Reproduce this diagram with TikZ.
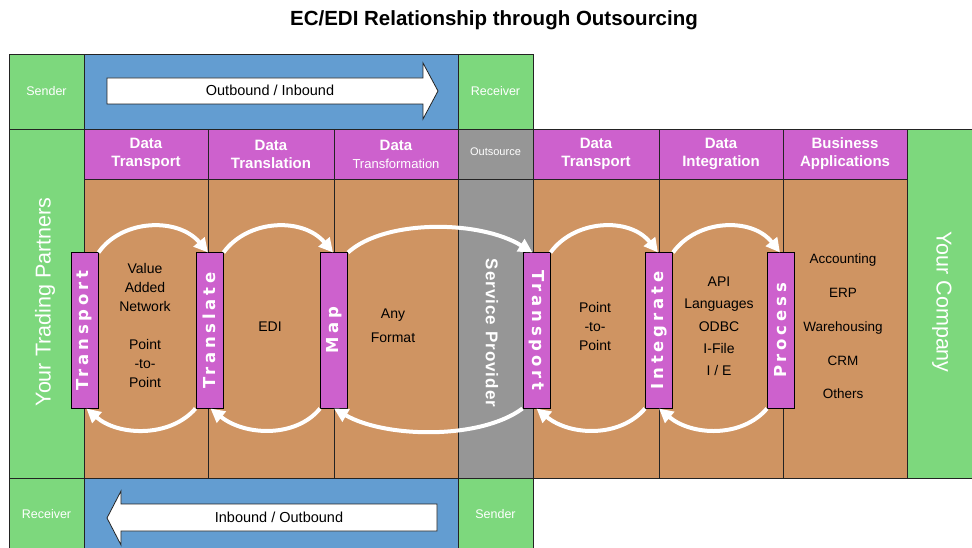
\documentclass[tikz,border=0pt]{standalone}
\usepackage{fontspec}
\setmainfont{Liberation Sans}
\newfontfamily\barfont[LetterSpace=23]{DejaVu Sans}
\usetikzlibrary{arrows.meta}
\definecolor{cgreen}{RGB}{125,216,125}
\definecolor{cblue}{RGB}{99,157,209}
\definecolor{cmag}{RGB}{205,97,205}
\definecolor{ctan}{RGB}{207,148,98}
\definecolor{cgray}{RGB}{150,150,150}
\definecolor{cline}{RGB}{35,35,35}
\newcommand{\fsz}[2]{\fontsize{#1}{#2}\selectfont}
\begin{document}
\begin{tikzpicture}[x=1pt,y=-1pt,
  cell/.style={draw=cline,line width=0.9pt},
  barbox/.style={draw=black,line width=1pt,fill=cmag,minimum width=27pt,minimum height=155pt,inner sep=0pt},
  barlabel/.style={text=white,inner sep=0pt,font=\barfont\fsz{16.5}{18}\bfseries},
  headtxt/.style={text=white,align=center,inner sep=0pt,font=\fsz{15}{18}\bfseries},
  small/.style={text=white,inner sep=0pt,font=\fsz{12.5}{14}},
  body/.style={text=black,align=center,inner sep=0pt,font=\fsz{14}{19}},
  bigv/.style={text=white,inner sep=0pt,font=\fsz{21.5}{24}},
  warr/.style={white,line width=4pt,-{Triangle[length=14pt,width=14pt]}},
  blockarr/.style={fill=white,draw=cline,line width=0.8pt}
]
\useasboundingbox (0,0) rectangle (972,548);
\fill[white] (0,0) rectangle (972,548);

% title
\node[inner sep=0pt,font=\fsz{20.5}{24}\bfseries] (title) at (494,20) {EC/EDI Relationship through Outsourcing};

% top row
\path[cell,fill=cgreen] (9,54) rectangle (84,129);
\path[cell,fill=cblue] (84,54) rectangle (458,129);
\path[cell,fill=cgreen] (458,54) rectangle (533,129);
% bottom row
\path[cell,fill=cgreen] (9,478) rectangle (84,552);
\path[cell,fill=cblue] (84,478) rectangle (458,552);
\path[cell,fill=cgreen] (458,478) rectangle (533,552);
% side columns
\path[cell,fill=cgreen] (9,129) rectangle (84,478);
\path[cell,fill=cgreen] (907,129) rectangle (976,478);
% gray column
\path[cell,fill=cgray] (458,129) rectangle (533,179);
\path[cell,fill=cgray] (458,179) rectangle (533,478);
% headers
\foreach \a/\b in {84/208,208/334,334/458,533/659,659/783,783/907}{
  \path[cell,fill=cmag] (\a,129) rectangle (\b,179);
  \path[cell,fill=ctan] (\a,179) rectangle (\b,478);
}

% block arrows
\path[blockarr] (107,78) -- (423,78) -- (423,63) -- (438,91) -- (423,119) -- (423,104) -- (107,104) -- cycle;
\path[blockarr] (437,504) -- (121,504) -- (121,491) -- (107,518) -- (121,545) -- (121,531) -- (437,531) -- cycle;
\node[inner sep=0pt,font=\fsz{14.5}{17}] (outin) at (270,90) {Outbound / Inbound};
\node[inner sep=0pt,font=\fsz{14.5}{17}] (inout) at (279,517) {Inbound / Outbound};

% row labels
\node[small] (sendtop) at (46.5,91) {Sender};
\node[small] (rectop) at (495.5,91) {Receiver};
\node[small] (recbot) at (46.5,514) {Receiver};
\node[small] (sendbot) at (495.5,514) {Sender};

% headers text
\node[headtxt] (h1) at (146,154) {Data\\Transport};
\node[headtxt] (h2) at (271,154) {Data\\Translation};
\node[headtxt] (h3) at (396,154) {Data\\{\fsz{13}{18}\mdseries Transformation}};
\node[inner sep=0pt,text=white,font=\fsz{11}{13}] (h4) at (495.5,152) {Outsource};
\node[headtxt] (h5) at (596,154) {Data\\Transport};
\node[headtxt] (h6) at (721,154) {Data\\Integration};
\node[headtxt] (h7) at (845,154) {Business\\Applications};

% big vertical labels
\node[bigv,rotate=90] (ytp) at (45,302) {Your Trading Partners};
\node[bigv,rotate=-90] (yc) at (942,302) {Your Company};
\node[text=white,inner sep=0pt,rotate=-90,font=\fsz{17}{20}\bfseries\addfontfeatures{LetterSpace=6}] (sp) at (492,333) {Service Provider};

% body texts
\node[body] (van) at (145,325.5) {Value\\Added\\Network\\[19pt]Point\\-to-\\Point};
\node[body] (edi) at (270,327) {EDI};
\node[body,font=\fsz{14}{24}] (anyf) at (393,326) {Any\\Format};
\node[body] (p2p) at (595,326) {Point\\-to-\\Point};
\node[body,font=\fsz{14}{22.3}] (api) at (719,326.5) {API\\Languages\\ODBC\\I-File\\I / E};
\node[body,font=\fsz{13.5}{33.7}] (apps) at (843,326.5) {Accounting\\ERP\\Warehousing\\CRM\\Others};

% bars
\node[barbox] (b1) at (84.5,330.5) {};
\node[barbox] (b2) at (209.5,330.5) {};
\node[barbox] (b3) at (334,330.5) {};
\node[barbox] (b4) at (536.5,330.5) {};
\node[barbox] (b5) at (659,330.5) {};
\node[barbox] (b6) at (781,330.5) {};
\node[barlabel,rotate=90] (l1) at (b1) {Transport};
\node[barlabel,rotate=90] (l2) at (b2) {Translate};
\node[barlabel,rotate=90] (l3) at (b3) {Map};
\node[barlabel,rotate=-90] (l4) at (b4) {Transport};
\node[barlabel,rotate=90] (l5) at (b5) {Integrate};
\node[barlabel,rotate=90] (l6) at (b6) {Process};

% top arcs (forward)
\draw[warr] (b1.north east) .. controls (122,219) and (178,217) .. ([xshift=-1.5pt]b2.north);
\draw[warr] (b2.north east) .. controls (248,219) and (303,217) .. ([xshift=-1pt]b3.north);
\draw[warr] (b3.north east) .. controls (385,219) and (480,220) .. ([xshift=-4pt]b4.north);
\draw[warr] (b4.north east) .. controls (575,219) and (630,217) .. ([xshift=-1pt]b5.north);
\draw[warr] (b5.north east) .. controls (697,219) and (752,217) .. ([xshift=-1pt]b6.north);
% bottom arcs (backward)
\draw[warr] (b2.south west) .. controls (170,438) and (118,436) .. ([xshift=2pt]b1.south);
\draw[warr] (b3.south west) .. controls (296,438) and (245,436) .. ([xshift=1pt]b2.south);
\draw[warr] (b4.south west) .. controls (480,440) and (385,438) .. ([xshift=0pt]b3.south);
\draw[warr] (b5.south west) .. controls (620,438) and (570,436) .. ([xshift=0pt]b4.south);
\draw[warr] (b6.south west) .. controls (742,438) and (692,436) .. ([xshift=0pt]b5.south);
\end{tikzpicture}
\end{document}
